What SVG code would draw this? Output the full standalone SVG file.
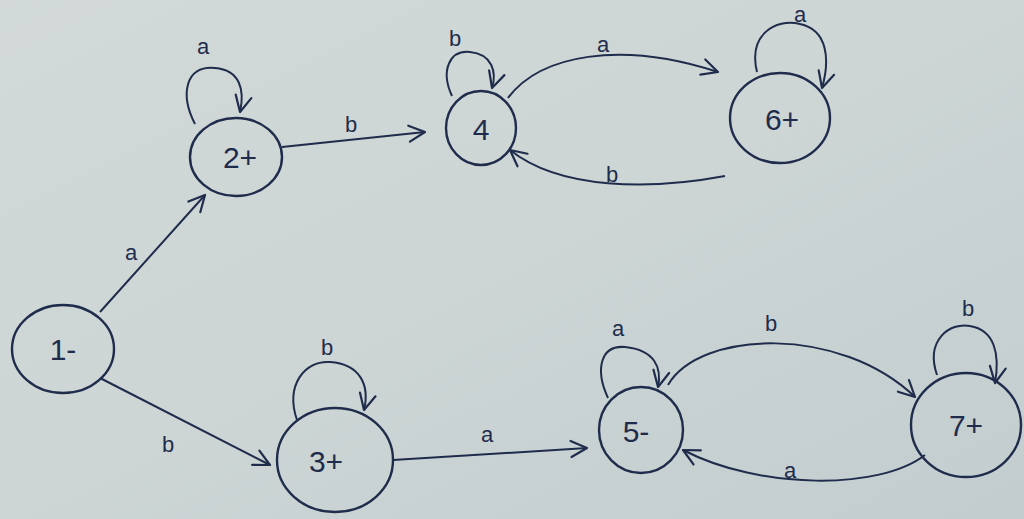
<svg xmlns="http://www.w3.org/2000/svg" width="1024" height="519" viewBox="0 0 1024 519">
<defs>
<linearGradient id="paper" x1="0" y1="0" x2="1" y2="1">
<stop offset="0" stop-color="#d2d9d8"/>
<stop offset="0.5" stop-color="#cdd5d5"/>
<stop offset="1" stop-color="#c3cdcf"/>
</linearGradient>
<marker id="arr" viewBox="0 0 20 20" refX="18" refY="10" markerWidth="20" markerHeight="20" markerUnits="userSpaceOnUse" orient="auto">
<path d="M2,2 L18,10 L2,18" fill="none" stroke="#1f2c4c" stroke-width="2.2" stroke-linecap="round" stroke-linejoin="round"/>
</marker>
<style>
.node{fill:none;stroke:#1f2c4c;stroke-width:2.4}
.edge{fill:none;stroke:#1f2c4c;stroke-width:2;marker-end:url(#arr)}
.nt{font-family:"Liberation Sans",sans-serif;font-size:30px;fill:#1f2c4c;text-anchor:middle}
.lb{font-family:"Liberation Sans",sans-serif;font-size:22px;fill:#1f2c4c;text-anchor:middle}
</style>
</defs>
<rect width="1024" height="519" fill="url(#paper)"/>
<g id="connectors">
<path class="edge" d="M100,312 L205,195"/>
<text class="lb" x="131" y="260">a</text>
<path class="edge" d="M100,378 L270,465"/>
<text class="lb" x="168" y="452">b</text>
<path class="edge" d="M195,124 C180,95 185,65 215,68 C240,70 245,90 240,112"/>
<text class="lb" x="203" y="54">a</text>
<path class="edge" d="M282,147 L425,132"/>
<text class="lb" x="351" y="132">b</text>
<path class="edge" d="M452,96 C440,70 450,50 470,52 C492,54 497,72 492,88"/>
<text class="lb" x="455" y="46">b</text>
<path class="edge" d="M508,98 C540,55 620,40 718,72"/>
<text class="lb" x="603" y="52">a</text>
<path class="edge" d="M725,176 C650,190 560,190 510,150"/>
<text class="lb" x="612" y="182">b</text>
<path class="edge" d="M757,72 C748,35 775,18 800,24 C828,30 830,60 822,88"/>
<text class="lb" x="800" y="22">a</text>
<path class="edge" d="M297,420 C285,385 305,360 330,362 C360,364 370,385 364,410"/>
<text class="lb" x="327" y="355">b</text>
<path class="edge" d="M393,460 L587,448"/>
<text class="lb" x="487" y="442">a</text>
<path class="edge" d="M608,398 C595,370 600,345 625,347 C655,350 662,368 658,387"/>
<text class="lb" x="618" y="336">a</text>
<path class="edge" d="M668,385 C700,330 840,325 915,397"/>
<text class="lb" x="771" y="331">b</text>
<path class="edge" d="M925,455 C880,490 760,490 683,450"/>
<text class="lb" x="790" y="478">a</text>
<path class="edge" d="M937,375 C925,340 950,322 970,326 C995,330 1000,355 995,383"/>
<text class="lb" x="968" y="316">b</text>
</g>
<g id="n1"><ellipse class="node" cx="63" cy="349" rx="51" ry="44"/><text class="nt" x="63" y="360">1-</text></g>
<g id="n2"><ellipse class="node" cx="236" cy="157" rx="46" ry="39"/><text class="nt" x="240" y="168">2+</text></g>
<g id="n3"><ellipse class="node" cx="335" cy="460" rx="58" ry="52"/><text class="nt" x="326" y="472">3+</text></g>
<g id="n4"><ellipse class="node" cx="481" cy="128" rx="35" ry="37"/><text class="nt" x="481" y="140">4</text></g>
<g id="n6"><ellipse class="node" cx="780" cy="118" rx="50" ry="45"/><text class="nt" x="782" y="130">6+</text></g>
<g id="n5"><ellipse class="node" cx="641" cy="430" rx="42" ry="43"/><text class="nt" x="636" y="442">5-</text></g>
<g id="n7"><ellipse class="node" cx="966" cy="425" rx="55" ry="52"/><text class="nt" x="966" y="436">7+</text></g>
</svg>
